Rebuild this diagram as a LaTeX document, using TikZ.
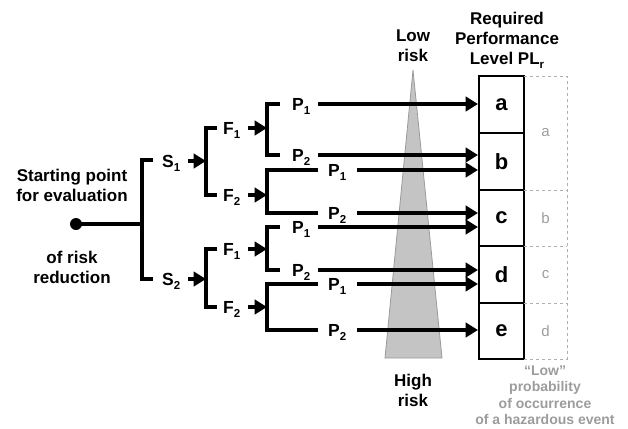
\documentclass[tikz,border=0pt]{standalone}
\usepackage{fontspec}
\setmainfont{Liberation Sans}
\usetikzlibrary{arrows.meta}
\definecolor{tri}{HTML}{C4C4C4}
\definecolor{trib}{HTML}{9A9A9A}
\definecolor{gtxt}{HTML}{9C9C9C}
\newcommand\sbx[1]{\raisebox{-0.45ex}{\fontsize{11.5}{11.5}\selectfont #1}}
\tikzset{
  ln/.style={line width=3.3pt, black},
  arr/.style={ln, -{Triangle[length=12.5pt,width=14.5pt]}},
  lbl/.style={font=\bfseries\fontsize{17.5}{20}\selectfont, inner sep=0pt, text height=12.5pt, text depth=0pt, anchor=west},
  ttl/.style={font=\bfseries\fontsize{17}{20}\selectfont, inner sep=0pt, align=center},
  pbox/.style={draw, line width=2pt, minimum width=45pt, minimum height=56.6pt, inner sep=0pt, font=\bfseries\fontsize{22}{22}\selectfont},
  gbox/.style={inner sep=0pt, text=gtxt, font=\fontsize{15}{15}\selectfont},
  gdash/.style={gtxt!80, dashed, line width=1pt},
}
\begin{document}
\begin{tikzpicture}[x=1pt,y=-1pt]
\useasboundingbox (0,0) rectangle (628,428);
% risk triangle
\coordinate (apex) at (413,70);
\coordinate (bl) at (385,358);
\coordinate (br) at (442,358);
\filldraw[fill=tri, draw=trib, line width=0.8pt] (apex) -- (br) -- (bl) -- cycle;
\node[ttl] (low) at (413,46) {Low\\risk};
\node[ttl] (high) at (413,390) {High\\risk};
% title
\node[ttl] (req) at (507,40) {Required\\Performance\\Level PL\sbx{r}};
% PL boxes
\node[pbox] (ba) at (501.5,104.5) {a};
\node[pbox] (bb) at (501.5,161.5) {b};
\node[pbox] (bc) at (501.5,218) {c};
\node[pbox] (bd) at (501.5,274.5) {d};
\node[pbox] (be) at (501.5,331) {e};
% dashed grey column
\coordinate (d0) at (524,76);
\coordinate (d1) at (567,76);
\coordinate (d2) at (567,359);
\coordinate (d3) at (524,359);
\draw[gdash] (d0) -- (d1) -- (d2) -- (d3);
\draw[gdash] (524,190) -- (567,190);
\draw[gdash] (524,246) -- (567,246);
\draw[gdash] (524,303) -- (567,303);
\node[gbox] (ga) at (545.5,133) {a};
\node[gbox] (gb) at (545.5,218) {b};
\node[gbox] (gc) at (545.5,274.5) {c};
\node[gbox] (gd) at (545.5,331) {d};
\node[inner sep=0pt, text=gtxt, align=center, font=\bfseries\fontsize{14}{16.5}\selectfont] (lowp) at (545,395) {“Low”\\probability\\of occurrence\\of a hazardous event};
% start
\fill (76,224) circle (6pt);
\coordinate (start) at (76,224);
\node[ttl, align=center] (st1) at (72,185) {Starting point\\for evaluation};
\node[ttl, align=center] (st2) at (72,267) {of risk\\reduction};
% S level
\node[lbl] (s1) at (162,161) {S\sbx{1}};
\node[lbl] (s2) at (162,279) {S\sbx{2}};
\draw[ln] (start) -- (142,224);
\draw[ln] (153,160) -- (142,160) -- (142,279) -- (153,279);
% F level
\node[lbl] (f11) at (223,128) {F\sbx{1}};
\node[lbl] (f12) at (223,195) {F\sbx{2}};
\node[lbl] (f21) at (223,249) {F\sbx{1}};
\node[lbl] (f22) at (223,307) {F\sbx{2}};
\coordinate (sb1) at (206,161);
\coordinate (sb2) at (206,279);
\draw[arr] (188,161) -- (sb1);
\draw[arr] (188,279) -- (sb2);
\draw[ln] (217,128) -- (206,128) -- (206,195) -- (217,195);
\draw[ln] (217,249) -- (206,249) -- (206,307) -- (217,307);
% P level
\node[lbl] (p111) at (292,104) {P\sbx{1}};
\node[lbl] (p112) at (292,155) {P\sbx{2}};
\node[lbl] (p121) at (328,170) {P\sbx{1}};
\node[lbl] (p122) at (328,213) {P\sbx{2}};
\node[lbl] (p211) at (292,227) {P\sbx{1}};
\node[lbl] (p212) at (292,270) {P\sbx{2}};
\node[lbl] (p221) at (328,284) {P\sbx{1}};
\node[lbl] (p222) at (328,330) {P\sbx{2}};
\draw[arr] (248,128) -- (267,128);
\draw[arr] (248,195) -- (267,195);
\draw[arr] (248,249) -- (267,249);
\draw[arr] (248,307) -- (267,307);
\draw[ln] (280,104) -- (267,104) -- (267,155) -- (280,155);
\draw[ln] (318,170) -- (267,170) -- (267,213) -- (318,213);
\draw[ln] (280,227) -- (267,227) -- (267,270) -- (280,270);
\draw[ln] (318,284) -- (267,284) -- (267,330) -- (318,330);
% arrows to PL boxes
\draw[arr] (318,104) -- (ba.west |- p111);
\draw[arr] (318,155) -- (bb.west |- p112);
\draw[arr] (357,170) -- (bb.west |- p121);
\draw[arr] (357,213) -- (bc.west |- p122);
\draw[arr] (318,227) -- (bc.west |- p211);
\draw[arr] (318,270) -- (bd.west |- p212);
\draw[arr] (357,284) -- (bd.west |- p221);
\draw[arr] (357,330) -- (be.west |- p222);
\end{tikzpicture}
\end{document}
